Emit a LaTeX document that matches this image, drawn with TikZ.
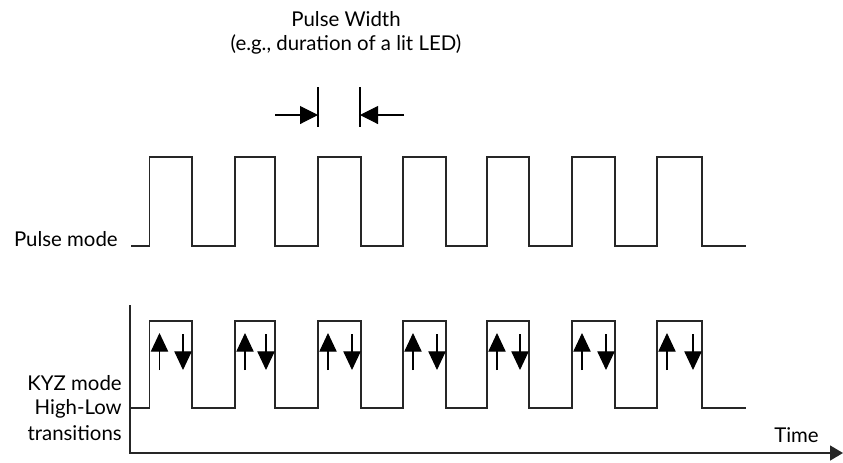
\documentclass[tikz,border=0pt]{standalone}
\usepackage{fontspec}
\setmainfont{Lato}
\usetikzlibrary{arrows.meta, positioning}
\tikzset{
  wave/.style={line width=1.1pt, color=black!85, line join=miter},
  axisline/.style={line width=1.1pt, color=black!85, -{Triangle[length=9.75pt, width=11.25pt]}},
  markline/.style={line width=0.8pt},
  pwarrow/.style={line width=0.8pt, -{Triangle[length=13.5pt, width=13.5pt]}},
  edgearrow/.style={line width=0.8pt, -{Triangle[length=14pt, width=13pt]}},
  lbl/.style={inner sep=0pt, font=\fontsize{15.3}{18.75}\selectfont}
}
\begin{document}
\begin{tikzpicture}[x=0.75pt, y=-0.75pt]
  \useasboundingbox (0,0) rectangle (843,462);

  % Labels
  \node[lbl, anchor=base] (pwtitle) at (346,26.7) {Pulse Width};
  \node[lbl, anchor=base] (pwnote) at (346,50) {(e.g., duration of a lit LED)};
  \node[lbl, anchor=base east] (pulselbl) at (118,246) {Pulse mode};
  \node[lbl, anchor=base east] (kyzlbl) at (122,390) {KYZ mode};
  \node[lbl, anchor=base east] (hllbl) at (122,414) {High-Low};
  \node[lbl, anchor=base east] (translbl) at (122,440) {transitions};
  \node[lbl, anchor=base west] (timelbl) at (774,442) {Time};

  % Pulse width markers
  \coordinate (pwleft) at (318,115);
  \coordinate (pwright) at (360,115);
  \draw[markline] (318,87) -- (318,127);
  \draw[markline] (360,87) -- (360,127);
  \draw[pwarrow] (275,115) -- (pwleft);
  \draw[pwarrow] (404,115) -- (pwright);

  % Pulse mode waveform
  \draw[wave] (131,246) foreach \r/\f in {149.5/192, 235/275, 318/361, 403/446, 487/529, 572/615, 657/702}
    { -- (\r,246) -- (\r,157) -- (\f,157) -- (\f,246) } -- (746,246);

  % KYZ waveform with transition arrows
  \draw[wave] (130,408) foreach \r/\f in {149.5/192, 235/275, 318/361, 403/446, 487/529, 572/615, 657/702}
    { -- (\r,408) -- (\r,321) -- (\f,321) -- (\f,408) } -- (746,408);
  \foreach \r/\f in {149.5/192, 235/275, 318/361, 403/446, 487/529, 572/615, 657/702} {
    \draw[edgearrow] (\r+10,370) -- (\r+10,333);
    \draw[edgearrow] (\f-9,334) -- (\f-9,370);
  }

  % Axes
  \draw[axisline] (130,305) -- (130,453) -- (843,453);
\end{tikzpicture}
\end{document}
